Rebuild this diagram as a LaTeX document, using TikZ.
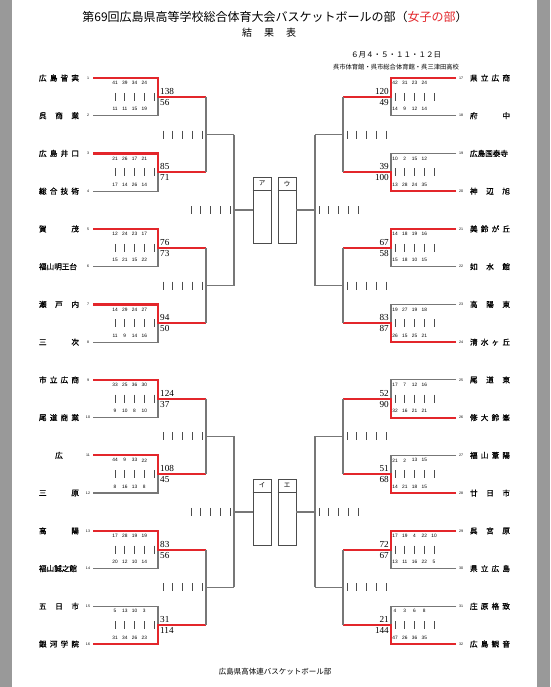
\documentclass[tikz,border=0pt]{standalone}
\usepackage{fontspec}
\setmainfont{Liberation Serif}
\newfontfamily\jfont{Noto Sans CJK JP}
\newfontfamily\jnamefont{Noto Sans CJK JP}[FakeBold=0.9]
\newfontfamily\numfont{Liberation Sans}
\definecolor{winred}{HTML}{E3262B}
\definecolor{linegray}{HTML}{777777}
\newcommand\tname[1]{\makebox[40pt][s]{#1}}
\newcommand\tallyrow[2]{%
  \foreach \k in {0,...,4}
    \draw[tally] ({#1+\k*9.75},{#2-4}) -- ({#1+\k*9.75},{#2+4});}

\begin{document}
\begin{tikzpicture}[x=1pt,y=-1pt,
  gray line/.style={draw=linegray,line width=1.2pt},
  red line/.style={draw=winred,line width=2.2pt},
  tally/.style={draw=black!70,line width=0.7pt},
  team node/.style={font=\jnamefont\fontsize{7.6}{8}\selectfont,inner sep=0pt},
  seed node/.style={font=\numfont\fontsize{3.6}{4}\selectfont,inner sep=0pt},
  quarter node/.style={font=\numfont\fontsize{4.8}{5}\selectfont,inner sep=0pt},
  score node/.style={font=\fontsize{9.2}{9}\selectfont,inner sep=0pt},
  pool box/.style={draw=black!70,line width=0.8pt,minimum width=18pt,minimum height=66pt,inner sep=0pt}]

  % page
  \fill[black!40] (0,0) rectangle (550,687);
  \fill[white] (12,0) rectangle (537,687);
  \useasboundingbox (0,0) rectangle (550,687);

  % heading
  \node[font=\jfont\fontsize{12}{12}\selectfont] (title) at (275,17)
    {第69回広島県高等学校総合体育大会バスケットボールの部（\textcolor{winred}{女子の部}）};
  \node[font=\jfont\fontsize{10}{10}\selectfont] (sub) at (269,33) {\makebox[54pt][s]{結\hfill 果\hfill 表}};
  \node[font=\jfont\fontsize{7.5}{8}\selectfont] (date) at (396,55) {６月４・５・１１・１２日};
  \node[font=\jfont\fontsize{6.3}{7}\selectfont] (venue) at (396,67) {呉市体育館・呉市総合体育館・呉三津田高校};
  \node[font=\jfont\fontsize{7.5}{8}\selectfont] (foot) at (275,672) {広島県高体連バスケットボール部};

  % teams, left half
  \foreach \i/\nm in {1/{広\hfill 島\hfill 皆\hfill 実},2/{呉\hfill 商\hfill 業},3/{広\hfill 島\hfill 井\hfill 口},
      4/{総\hfill 合\hfill 技\hfill 術},5/{賀\hfill 茂},6/{福山明王台},7/{瀬\hfill 戸\hfill 内},8/{三\hfill 次},
      9/{市\hfill 立\hfill 広\hfill 商},10/{尾\hfill 道\hfill 商\hfill 業},11/{\hfill 広\hfill},12/{三\hfill 原},
      13/{高\hfill 陽},14/{福山誠之館},15/{五\hfill 日\hfill 市},16/{銀\hfill 河\hfill 学\hfill 院}} {
    \pgfmathsetmacro\y{78+(\i-1)*37.733}
    \node[team node] (n\i) at (59,\y) {\tname{\nm}};
    \node[seed node] (s\i) at (88,\y) {\i};
  }
  % teams, right half
  \foreach \i/\nm in {17/{県\hfill 立\hfill 広\hfill 商},18/{府\hfill 中},19/{広島国泰寺},20/{神\hfill 辺\hfill 旭},
      21/{美\hfill 鈴\hfill が\hfill 丘},22/{如\hfill 水\hfill 館},23/{高\hfill 陽\hfill 東},24/{清\hfill 水\hfill ヶ\hfill 丘},
      25/{尾\hfill 道\hfill 東},26/{修\hfill 大\hfill 鈴\hfill 峯},27/{福\hfill 山\hfill 葦\hfill 陽},28/{廿\hfill 日\hfill 市},
      29/{呉\hfill 宮\hfill 原},30/{県\hfill 立\hfill 広\hfill 島},31/{庄\hfill 原\hfill 格\hfill 致},32/{広\hfill 島\hfill 観\hfill 音}} {
    \pgfmathsetmacro\y{78+(\i-17)*37.733}
    \node[team node] (n\i) at (490,\y) {\tname{\nm}};
    \node[seed node] (s\i) at (461,\y) {\i};
  }

  % first round, left
  \foreach \m/\w/\sa/\sb/\qa/\qb in {1/t/138/56/{41,39,34,24}/{11,11,15,19},2/t/85/71/{21,26,17,21}/{17,14,26,14},
      3/t/76/73/{12,24,23,17}/{15,21,15,22},4/t/94/50/{14,29,24,27}/{11,9,14,16},
      5/t/124/37/{33,25,36,30}/{9,10,8,10},6/t/108/45/{44,9,33,22}/{8,16,13,8},
      7/t/83/56/{17,28,19,19}/{20,12,10,14},8/b/31/114/{5,13,10,3}/{31,34,26,23}} {
    \pgfmathsetmacro\yt{78+(2*\m-2)*37.733}
    \pgfmathsetmacro\yb{\yt+37.733}
    \pgfmathsetmacro\ym{\yt+18.867}
    \coordinate (LT\m) at (93,\yt);
    \coordinate (LCT\m) at (158,\yt);
    \coordinate (LB\m) at (93,\yb);
    \coordinate (LCB\m) at (158,\yb);
    \coordinate (LM\m) at (158,\ym);
    \coordinate (LR\m) at (206,\ym);
    \if\w t
      \draw[gray line] (LB\m) -- (LCB\m) -- (LM\m);
      \draw[red line] (LT\m) -- (LCT\m) -- (LM\m) -- (LR\m);
    \else
      \draw[gray line] (LT\m) -- (LCT\m) -- (LM\m);
      \draw[red line] (LB\m) -- (LCB\m) -- (LM\m) -- (LR\m);
    \fi
    \node[score node,anchor=west] (LSA\m) at (160,\ym-5.5) {\sa};
    \node[score node,anchor=west] (LSB\m) at (160,\ym+5.5) {\sb};
    \foreach \q [count=\j] in \qa
      \node[quarter node] (LQA\m-\j) at ({115+(\j-1)*9.75},\yt+5) {\q};
    \foreach \q [count=\j] in \qb
      \node[quarter node] (LQB\m-\j) at ({115+(\j-1)*9.75},\yb-6.5) {\q};
    \tallyrow{115}{\ym}
  }

  % first round, right
  \foreach \m/\w/\sa/\sb/\qa/\qb in {1/t/120/49/{42,31,23,24}/{14,9,12,14},2/b/39/100/{10,2,15,12}/{13,28,24,35},
      3/t/67/58/{14,18,19,16}/{15,18,10,15},4/b/83/87/{19,27,19,18}/{26,15,25,21},
      5/b/52/90/{17,7,12,16}/{32,16,21,21},6/b/51/68/{21,2,13,15}/{14,21,18,15},
      7/t/72/67/{17,19,4,22,10}/{13,11,16,22,5},8/b/21/144/{4,3,6,8}/{47,26,36,35}} {
    \pgfmathsetmacro\yt{78+(2*\m-2)*37.733}
    \pgfmathsetmacro\yb{\yt+37.733}
    \pgfmathsetmacro\ym{\yt+18.867}
    \coordinate (RT\m) at (456,\yt);
    \coordinate (RCT\m) at (391,\yt);
    \coordinate (RB\m) at (456,\yb);
    \coordinate (RCB\m) at (391,\yb);
    \coordinate (RM\m) at (391,\ym);
    \coordinate (RR\m) at (343,\ym);
    \if\w t
      \draw[gray line] (RB\m) -- (RCB\m) -- (RM\m);
      \draw[red line] (RT\m) -- (RCT\m) -- (RM\m) -- (RR\m);
    \else
      \draw[gray line] (RT\m) -- (RCT\m) -- (RM\m);
      \draw[red line] (RB\m) -- (RCB\m) -- (RM\m) -- (RR\m);
    \fi
    \node[score node,anchor=east] (RSA\m) at (389,\ym-5.5) {\sa};
    \node[score node,anchor=east] (RSB\m) at (389,\ym+5.5) {\sb};
    \foreach \q [count=\j] in \qa
      \node[quarter node] (RQA\m-\j) at ({395+(\j-1)*9.75},\yt+5) {\q};
    \foreach \q [count=\j] in \qb
      \node[quarter node] (RQB\m-\j) at ({395+(\j-1)*9.75},\yb-6.5) {\q};
    \tallyrow{395}{\ym}
  }

  % second round
  \foreach \k in {1,...,4} {
    \pgfmathsetmacro\yq{78+(4*\k-4)*37.733+56.6}
    \pgfmathtruncatemacro\ma{2*\k-1}
    \pgfmathtruncatemacro\mb{2*\k}
    \coordinate (LQ\k) at (206,\yq);
    \coordinate (LS\k) at (234,\yq);
    \coordinate (RQ\k) at (343,\yq);
    \coordinate (RS\k) at (315,\yq);
    \draw[gray line] (LR\ma) -- (LR\mb);
    \draw[gray line] (LQ\k) -- (LS\k);
    \draw[gray line] (RR\ma) -- (RR\mb);
    \draw[gray line] (RQ\k) -- (RS\k);
    \tallyrow{163}{\yq}
    \tallyrow{347}{\yq}
  }

  % third round and pool boxes
  \foreach \h/\pl/\pr/\ll/\lr in {1/A/U/ア/ウ,2/I/E/イ/エ} {
    \pgfmathsetmacro\yf{78+(8*\h-4.5)*37.733}
    \pgfmathtruncatemacro\sa{2*\h-1}
    \pgfmathtruncatemacro\sb{2*\h}
    \coordinate (LF\h) at (234,\yf);
    \coordinate (RF\h) at (315,\yf);
    \node[pool box] (pool\pl) at (262,\yf) {};
    \node[pool box] (pool\pr) at (287,\yf) {};
    \draw[draw=black!70,line width=0.8pt] ([yshift=-14pt]pool\pl.north west) -- ([yshift=-14pt]pool\pl.north east);
    \draw[draw=black!70,line width=0.8pt] ([yshift=-14pt]pool\pr.north west) -- ([yshift=-14pt]pool\pr.north east);
    \node[font=\jfont\fontsize{6.5}{7}\selectfont] (lab\pl) at ([yshift=-7pt]pool\pl.north) {\ll};
    \node[font=\jfont\fontsize{6.5}{7}\selectfont] (lab\pr) at ([yshift=-7pt]pool\pr.north) {\lr};
    \draw[gray line] (LS\sa) -- (LS\sb);
    \draw[gray line] (RS\sa) -- (RS\sb);
    \draw[gray line] (LF\h) -- (pool\pl);
    \draw[gray line] (RF\h) -- (pool\pr);
    \tallyrow{191}{\yf}
    \tallyrow{319}{\yf}
  }
\end{tikzpicture}
\end{document}
